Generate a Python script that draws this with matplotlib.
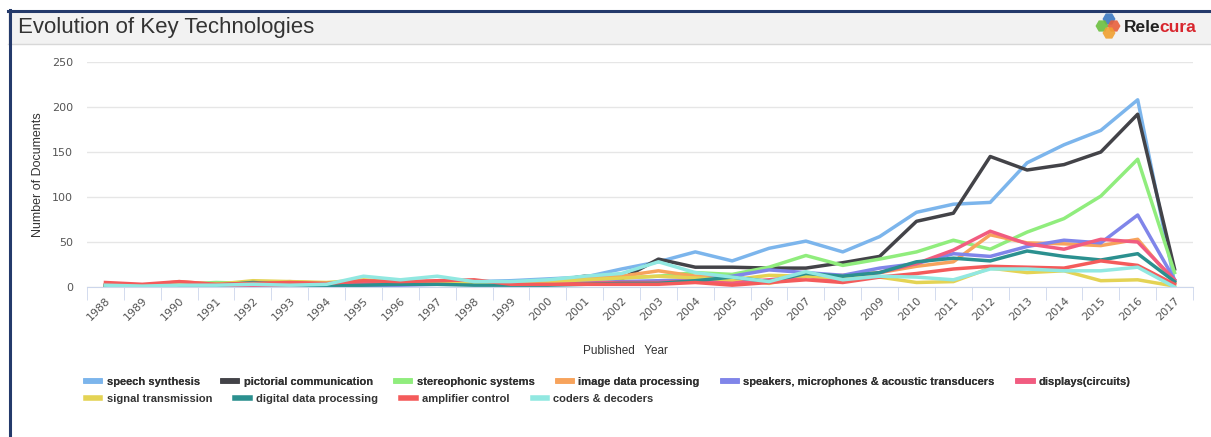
import numpy as np
import matplotlib.pyplot as plt
from matplotlib.lines import Line2D
from matplotlib.patches import Rectangle, RegularPolygon

plt.rcParams['font.family'] = ['Liberation Sans', 'DejaVu Sans']

years = [str(y) for y in range(1988, 2018)]

speech_synthesis = [1, 1, 2, 2, 3, 3, 3, 5, 5, 6, 6, 7, 9, 11, 20, 28, 39, 29, 43, 51,
                    39, 56, 83, 92, 94, 138, 158, 174, 208, 5]
pictorial_communication = [2, 1, 2, 2, 3, 2, 2, 3, 4, 4, 4, 5, 6, 12, 9, 31, 22, 22, 21, 21,
                           27, 34, 73, 82, 145, 130, 136, 150, 192, 20]
stereophonic_systems = [1, 2, 3, 5, 4, 3, 3, 5, 5, 4, 4, 5, 5, 8, 10, 12, 16, 14, 22, 35,
                        24, 31, 39, 52, 42, 61, 76, 101, 142, 16]
image_data_processing = [2, 1, 6, 3, 4, 6, 4, 7, 6, 6, 5, 5, 6, 10, 12, 18, 12, 10, 4, 12,
                         13, 16, 23, 28, 58, 49, 48, 46, 53, 5]
speakers = [1, 1, 1, 1, 2, 2, 2, 2, 2, 3, 3, 3, 4, 5, 6, 7, 8, 12, 19, 16,
            13, 21, 26, 37, 34, 45, 52, 49, 80, 8]
displays = [1, 1, 1, 2, 2, 2, 3, 4, 4, 5, 4, 3, 3, 4, 5, 5, 7, 5, 8, 12,
            6, 16, 26, 41, 62, 48, 42, 53, 50, 8]
signal_transmission = [1, 1, 5, 3, 7, 6, 5, 8, 6, 4, 4, 5, 6, 8, 10, 12, 10, 8, 13, 12,
                       10, 11, 5, 6, 21, 16, 18, 7, 8, 1]
digital_data_processing = [1, 0, 1, 2, 5, 3, 1, 2, 3, 3, 2, 2, 2, 3, 4, 4, 7, 11, 6, 15,
                           12, 16, 28, 32, 29, 40, 34, 30, 37, 6]
amplifier_control = [5, 3, 6, 3, 4, 5, 4, 7, 6, 7, 8, 3, 3, 3, 3, 3, 5, 2, 5, 8,
                     5, 11, 15, 20, 23, 22, 21, 29, 24, 3]
coders_decoders = [2, 1, 2, 2, 3, 2, 3, 12, 8, 12, 6, 6, 8, 12, 15, 28, 16, 11, 6, 17,
                   8, 12, 11, 8, 20, 20, 18, 18, 22, 0]

series_names = ['speech synthesis', 'pictorial communication', 'stereophonic systems',
                'image data processing', 'speakers, microphones & acoustic transducers',
                'displays(circuits)', 'signal transmission', 'digital data processing',
                'amplifier control', 'coders & decoders']
series_values = [speech_synthesis, pictorial_communication, stereophonic_systems,
                 image_data_processing, speakers, displays, signal_transmission,
                 digital_data_processing, amplifier_control, coders_decoders]
colors = ['#7cb5ec', '#434348', '#90ed7d', '#f7a35c', '#8085e9',
          '#f15c80', '#e4d354', '#2b908f', '#f45b5b', '#91e8e1']

W, H = 1211, 437
fig = plt.figure(figsize=(W / 100, H / 100), dpi=100)

# page frame: header band, navy borders
fig.patches.append(Rectangle((8 / W, 1 - 44 / H), 1, 32 / H, transform=fig.transFigure,
                             facecolor='#f2f2f2', edgecolor='none', zorder=-1))
fig.add_artist(Line2D([8 / W, 1], [1 - 44 / H, 1 - 44 / H], color='#d8d8d8', lw=1))
fig.add_artist(Line2D([8 / W, 1], [1 - 10.5 / H, 1 - 10.5 / H], color='#243a6b', lw=2.2))
fig.add_artist(Line2D([9.5 / W, 9.5 / W], [0, 1 - 9.5 / H], color='#243a6b', lw=2.2))
fig.text(18 / W, 1 - 28 / H, 'Evolution of Key Technologies', fontsize=16,
         color='#333333', va='center', ha='left')

# logo (hexagon cluster + wordmark)
lax = fig.add_axes([1094 / W, 1 - 41 / H, 30 / W, 30 / H])
lax.set_xlim(0, 30)
lax.set_ylim(0, 30)
lax.axis('off')
for hx, hy, hc in [(15, 22, '#3a78c2'), (8, 15, '#6cbf3f'), (20, 15, '#e8603c'), (15, 8, '#f0a030')]:
    lax.add_patch(RegularPolygon((hx, hy), 6, radius=6.5, orientation=np.pi / 6,
                                 facecolor=hc, edgecolor='none', alpha=0.9))
fig.text(1124 / W, 1 - 27 / H, 'Rele', fontsize=12.5, fontweight='bold', color='#222222',
         va='center', ha='left')
fig.text(1159 / W, 1 - 27 / H, 'cura', fontsize=12.5, fontweight='bold', color='#d8262e',
         va='center', ha='left')

ax = fig.add_axes([87 / W, 1 - 287 / H, (1193 - 87) / W, (287 - 62) / H])
x = np.arange(len(years))
for name, vals, c in zip(series_names, series_values, colors):
    ax.plot(x, vals, color=c, lw=2.5, label=name)

ax.set_xlim(-0.5, len(years) - 0.5)
ax.set_ylim(0, 250)
ax.set_yticks(range(0, 251, 50))
ax.grid(axis='y', color='#e6e6e6', lw=1)
ax.set_axisbelow(True)
for s in ['top', 'right', 'left']:
    ax.spines[s].set_visible(False)
ax.spines['bottom'].set_color('#ccd6eb')
ax.tick_params(axis='y', length=0, labelcolor='#555555', pad=10)
for t in ax.get_yticklabels():
    t.set_fontfamily('DejaVu Sans')
    t.set_fontsize(8)
ax.set_xticks(x)
ax.set_xticklabels(years, rotation=45, ha='right', rotation_mode='anchor',
                   fontsize=8, color='#555555', family='DejaVu Sans')
ax.tick_params(axis='x', which='major', length=0, pad=6)
ax.set_xticks(np.arange(-0.5, len(years)), minor=True)
ax.tick_params(axis='x', which='minor', length=9, color='#ccd6eb')
ax.set_ylabel('Number of Documents', fontsize=9, color='#333333', labelpad=6)

fig.text(625 / W, 1 - 351 / H, 'Published   Year', fontsize=8.5, color='#333333',
         ha='center', va='center')

handles = [Line2D([], [], color=c, lw=4) for c in colors]
leg_kw = dict(loc='center left', frameon=False, prop={'size': 8, 'weight': 'bold'},
              handlelength=1.3, handletextpad=0.55, columnspacing=2.1,
              borderpad=0, borderaxespad=0)
leg1 = fig.legend(handles[:6], series_names[:6], ncol=6,
                  bbox_to_anchor=(86 / W, 1 - 382 / H), **leg_kw)
fig.add_artist(leg1)
leg2 = fig.legend(handles[6:], series_names[6:], ncol=4,
                  bbox_to_anchor=(86 / W, 1 - 399 / H), **leg_kw)
for leg in (leg1, leg2):
    for t in leg.get_texts():
        t.set_color('#333333')

fig.savefig('out.png', dpi=100)
